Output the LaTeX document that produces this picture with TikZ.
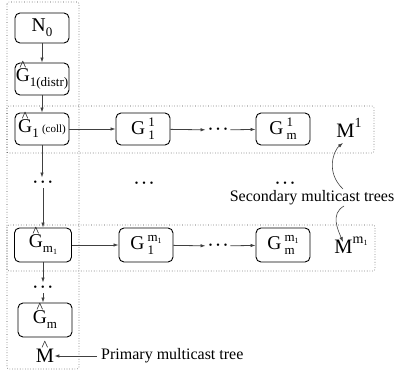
\documentclass[tikz,border=0pt]{standalone}
\usepackage{fontspec}
\setmainfont{Liberation Serif}
\usetikzlibrary{arrows.meta}
\newcommand\hatted[2]{\hbox{\ooalign{#1\cr\hidewidth\raisebox{#2}{\fontsize{14}{14}\selectfont\textasciicircum}\hidewidth\cr}}}
\newcommand\up[1]{\raisebox{8pt}{\fontsize{13}{13}\selectfont #1}}
\newcommand\dn[1]{\raisebox{-5pt}{\fontsize{13}{13}\selectfont #1}}
\newcommand\ud[2]{\,\ooalign{\up{#1}\cr\dn{#2}\cr}}
\newcommand\mone{m\raisebox{-2pt}{\fontsize{8}{8}\selectfont 1}}
\newcommand\dotsrow{\textbullet\hspace{4pt}\textbullet\hspace{4pt}\textbullet}
\begin{document}
\begin{tikzpicture}[x=1pt,y=-1pt,
  box/.style={draw, line width=0.9pt, rounded corners=5pt, minimum width=54pt, minimum height=32pt, inner sep=0pt, font=\fontsize{19.5}{22}\selectfont},
  arr/.style={-{Latex[length=5pt,width=3.5pt]}, line width=0.8pt, draw=black!75},
  grp/.style={draw=black!70, dotted, line width=0.6pt, rounded corners=2pt},
  lab/.style={font=\fontsize{16}{18}\selectfont, inner sep=0pt},
  big/.style={font=\fontsize{20.5}{24}\selectfont, inner sep=0pt},
  dts/.style={font=\fontsize{10}{10}\selectfont, inner sep=3pt}]
\useasboundingbox (0,0) rectangle (398,371);
\draw[grp] (7,2) rectangle (79,369);
\draw[grp] (7,106) rectangle (374,153);
\draw[grp] (7,225) rectangle (375,271);
% column
\node[box, minimum height=30pt] (N0) at (42,28) {N\dn{0}};
\node[box] (Gd) at (42,79) {\hatted{G}{11pt}\dn{1(distr)}};
\node[box] (Gc) at (42,129) {\hatted{G}{11pt}\dn{1}\,{\fontsize{11}{11}\selectfont(coll)}};
\node[dts] (dA) at (43,183) {\dotsrow};
\node[box, minimum width=57pt, minimum height=34pt] (Gh1) at (43,245) {\hatted{G}{11pt}\dn{\mone}};
\node[dts] (dC) at (43,288) {\dotsrow};
\node[box, minimum height=34pt] (Ghm) at (45,320) {\hatted{G}{11pt}\dn{m}};
\node[big] (Mh) at (45,356) {\hatted{M}{12pt}};
% row 1
\node[box] (G11) at (143,129) {G\ud{1}{1}};
\node[dts] (d1) at (218,130) {\dotsrow};
\node[box] (Gm1) at (283,129) {G\ud{1}{m}};
\node[big] (M1) at (349,128) {M\raisebox{10pt}{\fontsize{14}{14}\selectfont 1}};
% middle dots
\node[dts] (dB) at (144,184) {\dotsrow};
\node[dts] (dD) at (285,184) {\dotsrow};
\node[lab] (sec) at (312,198) {Secondary multicast trees};
% row 2
\node[box, minimum height=34pt] (G1m) at (146,245) {G\ud{\mone}{1}};
\node[dts] (d2) at (218,246) {\dotsrow};
\node[box, minimum height=34pt] (Gmm) at (283,245) {G\ud{\mone}{m}};
\node[big] (Mm) at (351,245) {M\raisebox{10pt}{\fontsize{14}{14}\selectfont\mone}};
\node[lab, anchor=west] (pri) at (101,356) {Primary multicast tree};
% arrows
\draw[arr] (N0) -- (Gd);
\draw[arr] (Gd) -- (Gc);
\draw[arr] (Gc.south) -- (Gc.south |- dA.north);
\draw[arr] (dA.south) -- (Gh1.north -| dA.south);
\draw[arr] (Gh1.south -| dC.north) -- (dC.north);
\draw[arr] (dC.south) -- (Ghm.north -| dC.south);
\draw[arr] (Gc) -- (G11);
\draw[arr] (G11) -- (d1);
\draw[arr] (d1) -- (Gm1);
\draw[arr] (Gh1) -- (G1m);
\draw[arr] (G1m) -- (d2);
\draw[arr] (d2) -- (Gmm);
\draw[arr] (pri.west) ++(-4,0) coordinate (p0) (p0) -- (Mh.east);
\coordinate (c1) at (343,189);
\coordinate (c2) at (343,143);
\coordinate (c3) at (344,206);
\coordinate (c4) at (343,242);
\draw[arr, line width=0.6pt] (c1) .. controls (325,172) and (334,150) .. (c2);
\draw[arr, line width=0.6pt] (c3) .. controls (330,214) and (338,230) .. (c4);
\end{tikzpicture}
\end{document}
